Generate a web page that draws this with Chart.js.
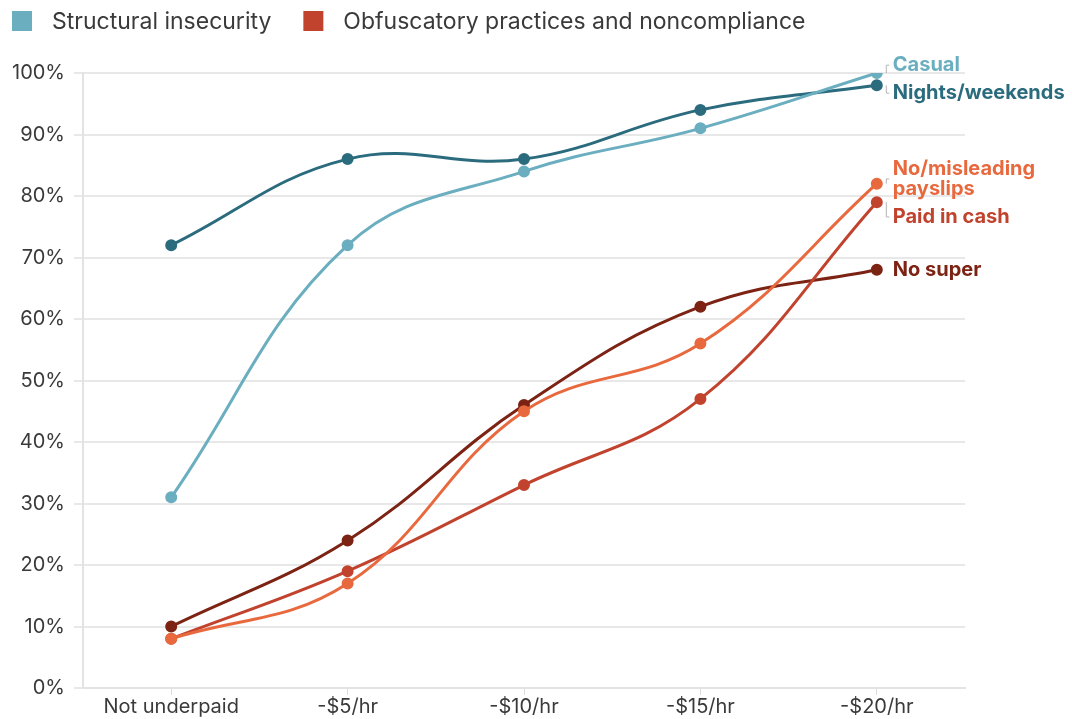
<!DOCTYPE html>
<html>
<head>
<meta charset="utf-8">
<script src="https://cdn.jsdelivr.net/npm/chart.js@4.4.1/dist/chart.umd.min.js"></script>
<style>
  html, body { margin: 0; padding: 0; background: #ffffff; }
  #wrap { width: 1072px; height: 719px; position: relative; }
</style>
</head>
<body>
<div id="wrap"><canvas id="c"></canvas></div>
<script>
// Underpayment level categories
const categories = ['Not underpaid', '-$5/hr', '-$10/hr', '-$15/hr', '-$20/hr'];

// Share of workers (%) reporting each condition
const casual = [31, 72, 84, 91, 100];
const nightsWeekends = [72, 86, 86, 94, 98];
const payslips = [8, 17, 45, 56, 82];
const paidInCash = [8, 19, 33, 47, 79];
const noSuper = [10, 24, 46, 62, 68];

const yTicks = [0, 10, 20, 30, 40, 50, 60, 70, 80, 90, 100];

const groups = [
  { name: 'Structural insecurity', color: '#6aaec0' },
  { name: 'Obfuscatory practices and noncompliance', color: '#c1432e' }
];

const series = [
  { label: 'Casual', endLabel: ['Casual'], data: casual, color: '#6aaec0' },
  { label: 'Nights/weekends', endLabel: ['Nights/weekends'], data: nightsWeekends, color: '#2b6b7e' },
  { label: 'No/misleading payslips', endLabel: ['No/misleading', 'payslips'], data: payslips, color: '#e9693f' },
  { label: 'Paid in cash', endLabel: ['Paid in cash'], data: paidInCash, color: '#c1432e' },
  { label: 'No super', endLabel: ['No super'], data: noSuper, color: '#7c2314' }
];

const FONT = 'Inter, "Open Sans", "DejaVu Sans", sans-serif';
const TEXT = '#3a3a3a';

// Group legend across the top
const groupLegend = {
  id: 'groupLegend',
  afterDraw(chart) {
    const { ctx } = chart;
    ctx.save();
    ctx.font = '23px ' + FONT;
    ctx.textBaseline = 'middle';
    ctx.textAlign = 'left';
    let x = 12;
    const cy = 21;
    groups.forEach(g => {
      ctx.fillStyle = g.color;
      ctx.fillRect(x, cy - 10, 20, 20);
      ctx.fillStyle = TEXT;
      ctx.fillText(g.name, x + 40, cy + 1);
      x += 40 + ctx.measureText(g.name).width + 32;
    });
    ctx.restore();
  }
};

// Labels at the end of each line, spread apart when they collide
const endLabels = {
  id: 'endLabels',
  afterDatasetsDraw(chart) {
    const { ctx } = chart;
    const x = chart.scales.x, y = chart.scales.y;
    const lineH = 20, gap = 8;
    const items = chart.data.datasets.map(ds => {
      const last = ds.data.length - 1;
      const py = y.getPixelForValue(ds.data[last]);
      return { ds, px: x.getPixelForValue(last), py, h: ds.endLabel.length * lineH + gap, cy: py };
    }).sort((a, b) => a.py - b.py);

    const place = b => {
      const total = b.items.reduce((s, it) => s + it.h, 0);
      const mean = b.items.reduce((s, it) => s + it.py, 0) / b.items.length;
      b.top = mean - total / 2;
      b.bottom = mean + total / 2;
    };
    const blocks = items.map(it => ({ items: [it] }));
    blocks.forEach(place);
    let merged = true;
    while (merged) {
      merged = false;
      for (let i = 0; i < blocks.length - 1; i++) {
        if (blocks[i].bottom > blocks[i + 1].top) {
          blocks[i].items = blocks[i].items.concat(blocks[i + 1].items);
          blocks.splice(i + 1, 1);
          place(blocks[i]);
          merged = true;
          break;
        }
      }
    }
    blocks.forEach(b => {
      let t = b.top;
      b.items.forEach(it => { it.cy = t + it.h / 2; t += it.h; });
    });

    ctx.save();
    ctx.font = 'bold 20px ' + FONT;
    ctx.textBaseline = 'middle';
    ctx.textAlign = 'left';
    items.forEach(it => {
      const lx = it.px + 16;
      if (Math.abs(it.cy - it.py) > 2) {
        ctx.strokeStyle = '#b5b5b5';
        ctx.lineWidth = 1;
        const bx = it.px + 9.5;
        ctx.beginPath();
        ctx.moveTo(bx, it.py);
        ctx.lineTo(bx, it.cy);
        ctx.lineTo(bx + 3, it.cy);
        ctx.stroke();
      }
      ctx.fillStyle = it.ds.borderColor;
      const n = it.ds.endLabel.length;
      it.ds.endLabel.forEach((s, k) => {
        ctx.fillText(s, lx, it.cy + (k - (n - 1) / 2) * lineH);
      });
    });
    ctx.restore();
  }
};

new Chart(document.getElementById('c'), {
  type: 'line',
  data: {
    labels: categories,
    datasets: series.map(s => ({
      label: s.label,
      endLabel: s.endLabel,
      data: s.data,
      borderColor: s.color,
      backgroundColor: s.color,
      pointBackgroundColor: s.color,
      pointBorderColor: s.color,
      borderWidth: 3,
      pointRadius: 4.5,
      pointHoverRadius: 4.5,
      tension: 0.4,
      fill: false
    }))
  },
  options: {
    responsive: true,
    maintainAspectRatio: false,
    animation: false,
    layout: { padding: { left: 3, right: 107, top: 73, bottom: 0 } },
    plugins: {
      legend: { display: false },
      tooltip: { enabled: false }
    },
    scales: {
      x: {
        offset: true,
        grid: { display: true, drawOnChartArea: false, drawTicks: true, tickLength: 7, offset: false, color: '#dddddd' },
        border: { display: true, color: '#e3e3e3', width: 2 },
        ticks: { font: { family: FONT, size: 20 }, color: TEXT, padding: 0 }
      },
      y: {
        min: 0,
        max: 100,
        afterBuildTicks: axis => { axis.ticks = yTicks.map(v => ({ value: v })); },
        grid: { color: '#e8e8e8', lineWidth: 2, tickLength: 9 },
        border: { display: true, color: '#e3e3e3', width: 2 },
        ticks: {
          font: { family: FONT, size: 20 },
          color: TEXT,
          padding: 9,
          callback: v => v + '%'
        }
      }
    }
  },
  plugins: [endLabels, groupLegend]
});
</script>
</body>
</html>
